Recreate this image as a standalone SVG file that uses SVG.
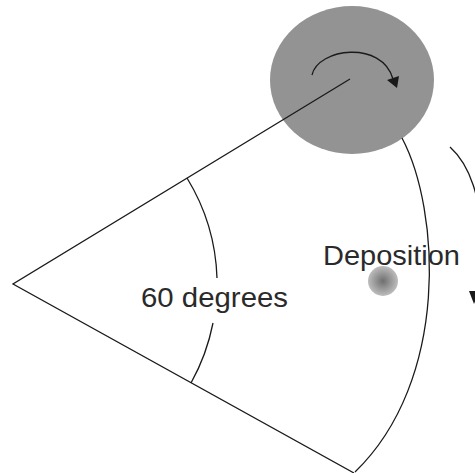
<svg xmlns="http://www.w3.org/2000/svg" width="475" height="473" viewBox="0 0 475 473">
<style>
.ln{fill:none;stroke:#1a1a1a;stroke-width:1.3}
.lbl{font-family:"Liberation Sans",Arial,sans-serif;font-size:28px;fill:#2a2a2a}
</style>
<defs>
<radialGradient id="dep" cx="0.5" cy="0.5" r="0.5">
<stop offset="0" stop-color="#6f6f6f"/>
<stop offset="1" stop-color="#bdbdbd"/>
</radialGradient>
</defs>
<rect width="475" height="473" fill="#fff"/>
<g id="target">
<ellipse cx="352" cy="80" rx="82" ry="74" fill="#939393"/>
<path class="ln" d="M312 75 C318 48 382 40 393 79" stroke-width="1.1"/>
<polygon points="387,80 399,76 397,88" fill="#1a1a1a"/>
</g>
<g id="connectors">
<path class="ln" d="M350 79 L13 284 L354 473"/>
<path class="ln" d="M187 178 A204 204 0 0 1 217 278"/>
<path class="ln" d="M213 323 A204 204 0 0 1 191 383"/>
<path class="ln" d="M402 138 C440 210 450 380 355 472"/>
<path class="ln" d="M450 147 C470 165 482 200 480 240"/>
<polygon points="469,291 479,291 474,304" fill="#1a1a1a"/>
</g>
<g id="angle-label">
<text class="lbl" x="141" y="307" textLength="147" lengthAdjust="spacingAndGlyphs">60 degrees</text>
</g>
<g id="deposition">
<text class="lbl" x="323" y="265" textLength="137" lengthAdjust="spacingAndGlyphs">Deposition</text>
<circle cx="383" cy="281" r="15" fill="url(#dep)"/>
</g>
</svg>
